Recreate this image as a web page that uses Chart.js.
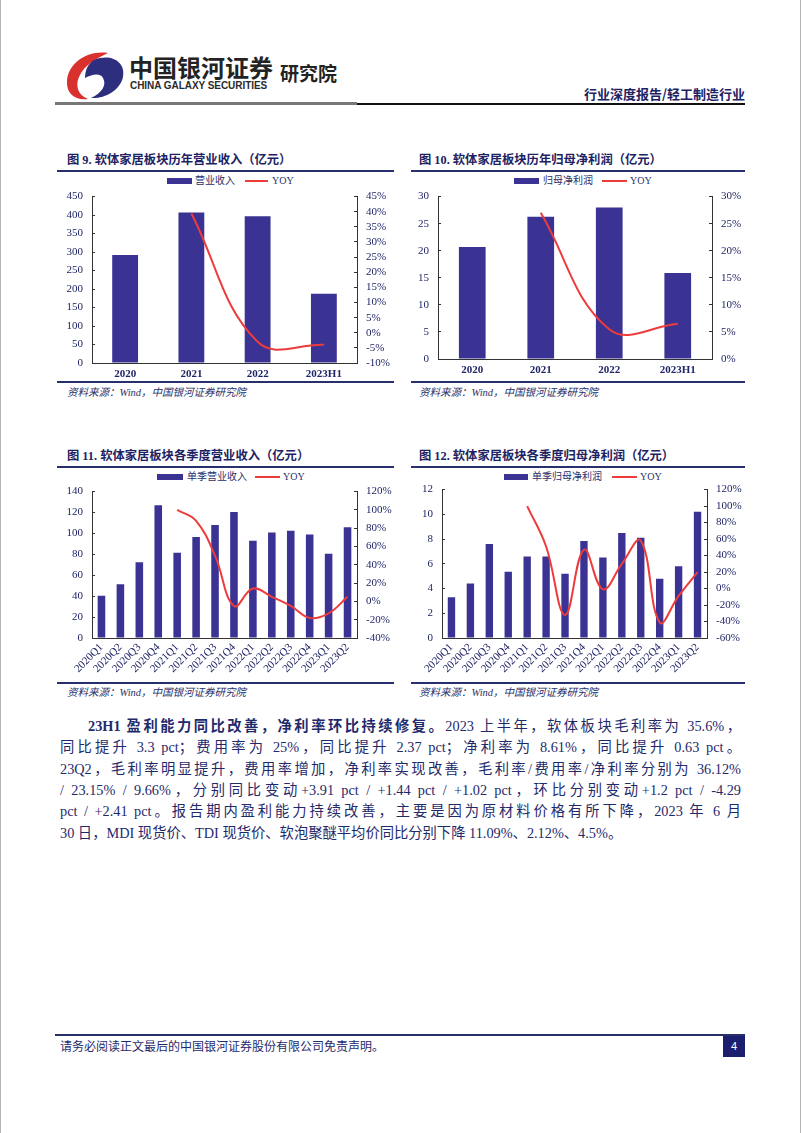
<!DOCTYPE html>
<html>
<head>
<meta charset="utf-8">
<script src="https://cdn.jsdelivr.net/npm/chart.js@4.4.0/dist/chart.umd.min.js"></script>
<style>
  body { margin: 0; width: 802px; height: 1133px; position: relative; background: #fff; overflow: hidden;
         font-family: 'Liberation Serif', 'Noto Sans CJK SC', serif; color: #1f2a6b; }
  .abs { position: absolute; }
  .edge { position: absolute; top: 0; bottom: 0; width: 1px; background: #b5b5b5; }
  .title { position: absolute; font-size: 12.3px; font-weight: bold; color: #1d2263; white-space: nowrap; line-height: 14px; }
  .rule { position: absolute; height: 2px; background: #27306b; }
  .src { position: absolute; font-size: 10.5px; font-style: italic; color: #2a2f6a; white-space: nowrap; line-height: 12px; }
  .leg { position: absolute; height: 12px; font-size: 10px; line-height: 12px; color: #2a2f6a; white-space: nowrap; }
  .leg span { position: absolute; top: 0; }
  .leg i { position: absolute; display: block; }
  canvas { position: absolute; }
  .para div { position: absolute; left: 60px; width: 681px; height: 21.4px; line-height: 21.4px; font-size: 14.3px;
              white-space: nowrap; text-align: justify; text-align-last: justify; color: #1f2a6b; }
  .para div.last { text-align-last: left; }
</style>
</head>
<body>
<div class="edge" style="left:0"></div>
<div class="edge" style="left:800px"></div>

<!-- header -->
<svg class="abs" style="left:64px;top:50px" width="62" height="52" viewBox="0 0 62 52">
  <path d="M44 3 C22 0 4 14 3 31 C2 44 12 51 24 49 C14 45 11 36 15 27 C20 15 32 9 44 3 Z" fill="#d9322e"/>
  <path d="M30 10 C47 3 62 12 59 27 C56 41 40 49 27 48 C38 43 43 35 39 28 C36 23 29 24 21 28 C21 20 24 14 30 10 Z" fill="#2d2f7e"/>
</svg>
<div class="abs" style="left:129px;top:52px;font-size:24px;font-weight:bold;color:#232323;font-family:'Noto Sans CJK SC';line-height:30px;white-space:nowrap">中国银河证券</div>
<div class="abs" style="left:130px;top:80px;font-size:10px;font-weight:bold;color:#2b2b2b;font-family:'Liberation Sans';letter-spacing:-0.05px;line-height:12px;white-space:nowrap">CHINA GALAXY SECURITIES</div>
<div class="abs" style="left:280px;top:61px;font-size:19px;font-weight:bold;color:#232323;font-family:'Noto Sans CJK SC';line-height:24px;white-space:nowrap">研究院</div>
<div class="abs" style="right:57px;top:86px;font-size:13px;font-weight:bold;color:#1d2263;font-family:'Noto Sans CJK SC';line-height:16px;white-space:nowrap">行业深度报告/轻工制造行业</div>
<div class="abs" style="left:55px;top:102px;width:302px;height:3px;background:#777"></div>
<div class="abs" style="left:357px;top:103px;width:388px;height:1.5px;background:#111"></div>

<!-- chart titles and rules -->
<div class="title" style="left:67px;top:153px">图 9. 软体家居板块历年营业收入（亿元）</div>
<div class="rule" style="left:57px;top:170px;width:337px"></div>
<div class="title" style="left:419px;top:153px">图 10. 软体家居板块历年归母净利润（亿元）</div>
<div class="rule" style="left:411px;top:170px;width:334px"></div>
<div class="rule" style="left:57px;top:381px;width:337px"></div>
<div class="rule" style="left:411px;top:381px;width:334px"></div>
<div class="src" style="left:67px;top:387px">资料来源：Wind，中国银河证券研究院</div>
<div class="src" style="left:419px;top:387px">资料来源：Wind，中国银河证券研究院</div>

<div class="title" style="left:67px;top:449px">图 11. 软体家居板块各季度营业收入（亿元）</div>
<div class="rule" style="left:57px;top:466px;width:337px"></div>
<div class="title" style="left:419px;top:449px">图 12. 软体家居板块各季度归母净利润（亿元）</div>
<div class="rule" style="left:411px;top:466px;width:334px"></div>
<div class="rule" style="left:57px;top:682px;width:337px"></div>
<div class="rule" style="left:411px;top:682px;width:334px"></div>
<div class="src" style="left:67px;top:687px">资料来源：Wind，中国银河证券研究院</div>
<div class="src" style="left:419px;top:687px">资料来源：Wind，中国银河证券研究院</div>

<!-- legends -->
<div class="leg" style="left:167px;top:175px"><i id="l9b" style="left:0;top:3px;width:25px;height:6px"></i><span style="left:28px">营业收入</span><i id="l9l" style="left:78px;top:5px;width:23px;height:2px"></i><span style="left:105px">YOY</span></div>
<div class="leg" style="left:514px;top:175px"><i id="l10b" style="left:0;top:3px;width:25px;height:6px"></i><span style="left:29px">归母净利润</span><i id="l10l" style="left:88px;top:5px;width:25px;height:2px"></i><span style="left:116px">YOY</span></div>
<div class="leg" style="left:157px;top:471px"><i id="l11b" style="left:0;top:3px;width:26px;height:6px"></i><span style="left:30px">单季营业收入</span><i id="l11l" style="left:98px;top:5px;width:25px;height:2px"></i><span style="left:126px">YOY</span></div>
<div class="leg" style="left:504px;top:471px"><i id="l12b" style="left:0;top:3px;width:24px;height:6px"></i><span style="left:28px">单季归母净利润</span><i id="l12l" style="left:108px;top:5px;width:25px;height:2px"></i><span style="left:136px">YOY</span></div>

<canvas id="c9" width="337" height="204" style="left:58px;top:178px"></canvas>
<canvas id="c10" width="333" height="204" style="left:412px;top:178px"></canvas>
<canvas id="c11" width="337" height="211" style="left:58px;top:473px"></canvas>
<canvas id="c12" width="333" height="213" style="left:412px;top:471px"></canvas>

<!-- text -->
<div class="para">
  <div style="top:716px;left:88px;width:653px"><b>23H1 盈利能力同比改善，净利率环比持续修复。</b>2023 上半年，软体板块毛利率为 35.6%，</div>
  <div style="top:737px">同比提升 3.3 pct；费用率为 25%，同比提升 2.37 pct；净利率为 8.61%，同比提升 0.63 pct。</div>
  <div style="top:759px">23Q2，毛利率明显提升，费用率增加，净利率实现改善，毛利率/费用率/净利率分别为 36.12%</div>
  <div style="top:780px">/ 23.15% / 9.66%，分别同比变动+3.91 pct / +1.44 pct / +1.02 pct，环比分别变动+1.2 pct / -4.29</div>
  <div style="top:801px">pct / +2.41 pct。报告期内盈利能力持续改善，主要是因为原材料价格有所下降，2023 年 6 月</div>
  <div class="last" style="top:823px">30 日，MDI 现货价、TDI 现货价、软泡聚醚平均价同比分别下降 11.09%、2.12%、4.5%。</div>
</div>

<!-- footer -->
<div class="abs" style="left:55px;top:1034px;width:690px;height:2px;background:#27306b"></div>
<div class="abs" style="left:60px;top:1039px;font-size:12px;line-height:14px;color:#1f2a6b;white-space:nowrap;font-family:'Noto Sans CJK SC'">请务必阅读正文最后的中国银河证券股份有限公司免责声明。</div>
<div class="abs" style="left:723px;top:1036px;width:22px;height:21px;background:#1c1f6e;color:#fff;font-size:11px;line-height:21px;text-align:center;font-family:'Liberation Sans'">4</div>

<script>
const NAVY = '#3b3393';
const RED = '#ee3b3b';
const AXIS = '#333';
const TICK = '#1f2566';

const yearLabels = ['2020', '2021', '2022', '2023H1'];
const annualRevenue = [292, 407, 397, 187];
const annualRevenueYoy = [null, 39.4, -3.0, -4.0];
const annualProfit = [20.7, 26.3, 28.0, 15.9];
const annualProfitYoy = [null, 27.0, 5.5, 6.5];

const quarterLabels = ['2020Q1', '2020Q2', '2020Q3', '2020Q4', '2021Q1', '2021Q2', '2021Q3',
  '2021Q4', '2022Q1', '2022Q2', '2022Q3', '2022Q4', '2023Q1', '2023Q2'];
const quarterRevenue = [40.5, 51.5, 72.5, 127, 81.5, 96.5, 108, 120.5, 93, 101, 102.5, 99, 80.5, 106];
const quarterRevenueYoy = [null, null, null, null, 100, 88, 50, -5, 14, 5, -5, -18, -13, 5];
const quarterProfit = [3.3, 4.4, 7.6, 5.35, 6.6, 6.6, 5.2, 7.85, 6.5, 8.5, 8.1, 4.8, 5.8, 10.2];
const quarterProfitYoy = [null, null, null, null, 100, 51, -32, 47, -1, 30, 58, -41, -9, 20];

['l9b', 'l10b', 'l11b', 'l12b'].forEach(id => document.getElementById(id).style.background = NAVY);
['l9l', 'l10l', 'l11l', 'l12l'].forEach(id => document.getElementById(id).style.background = RED);

function makeChart(id, labels, bars, yoy, o) {
  const tickFont = { family: "'Liberation Serif', serif", size: 11 };
  return new Chart(document.getElementById(id), {
    type: 'bar',
    data: {
      labels: labels,
      datasets: [
        { type: 'line', data: yoy, yAxisID: 'y1', borderColor: RED, borderWidth: 2,
          pointRadius: 0, tension: 0.4, order: 0 },
        { data: bars, yAxisID: 'y', backgroundColor: NAVY, barPercentage: o.bar,
          categoryPercentage: 1, order: 1 }
      ]
    },
    options: {
      responsive: false,
      animation: false,
      events: [],
      layout: { padding: { top: 8 } },
      plugins: { legend: { display: false }, tooltip: { enabled: false } },
      scales: {
        x: {
          grid: { display: false, drawTicks: false },
          border: { color: AXIS, width: 1 },
          ticks: { color: TICK, font: Object.assign({ weight: o.xBold ? 'bold' : 'normal' }, tickFont),
                   padding: o.xPad, autoSkip: false, maxRotation: o.rot, minRotation: o.rot },
          afterFit: s => { s.height = o.xH; }
        },
        y: {
          position: 'left', min: o.yMin, max: o.yMax,
          ticks: { stepSize: o.yStep, color: TICK, font: tickFont, padding: 12, autoSkip: false },
          grid: { drawOnChartArea: false, tickLength: -3, color: AXIS },
          border: { color: AXIS, width: 1 },
          afterFit: s => { s.width = o.yW; }
        },
        y1: {
          position: 'right', min: o.rMin, max: o.rMax,
          ticks: { stepSize: o.rStep, color: TICK, font: tickFont, padding: 12, autoSkip: false,
                   callback: v => v + '%' },
          grid: { drawOnChartArea: false, tickLength: -3, color: AXIS },
          border: { color: AXIS, width: 1 },
          afterFit: s => { s.width = o.rW; }
        }
      }
    }
  });
}

makeChart('c9', yearLabels, annualRevenue, annualRevenueYoy,
  { bar: 0.39, xBold: true, xPad: 5, rot: 0, xH: 19, yMin: 0, yMax: 450, yStep: 50, yW: 34,
    rMin: -10, rMax: 45, rStep: 5, rW: 38 });
makeChart('c10', yearLabels, annualProfit, annualProfitYoy,
  { bar: 0.39, xBold: true, xPad: 5, rot: 0, xH: 23, yMin: 0, yMax: 30, yStep: 5, yW: 26,
    rMin: 0, rMax: 30, rStep: 5, rW: 33 });
makeChart('c11', quarterLabels, quarterRevenue, quarterRevenueYoy,
  { bar: 0.4, xBold: false, xPad: 3, rot: 45, xH: 46, yMin: 0, yMax: 140, yStep: 20, yW: 34,
    rMin: -40, rMax: 120, rStep: 20, rW: 38 });
makeChart('c12', quarterLabels, quarterProfit, quarterProfitYoy,
  { bar: 0.39, xBold: false, xPad: 3, rot: 45, xH: 46, yMin: 0, yMax: 12, yStep: 2, yW: 30,
    rMin: -60, rMax: 120, rStep: 20, rW: 38 });
</script>
</body>
</html>
